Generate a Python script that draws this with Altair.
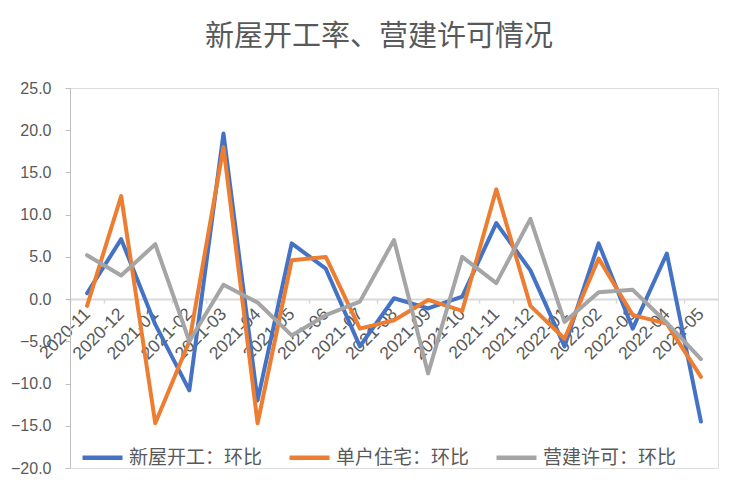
import altair as alt
import pandas as pd

months = ["2020-11", "2020-12", "2021-01", "2021-02", "2021-03", "2021-04", "2021-05",
          "2021-06", "2021-07", "2021-08", "2021-09", "2021-10", "2021-11", "2021-12",
          "2022-01", "2022-02", "2022-03", "2022-04", "2022-05"]
series_names = ["新屋开工：环比", "单户住宅：环比", "营建许可：环比"]
starts = [0.7, 7.1, -3.0, -10.8, 19.6, -12.0, 6.6, 3.6, -5.6, 0.1, -1.1, 0.3, 9.0, 3.4, -5.6, 6.6, -3.5, 5.4, -14.5]
single = [-0.8, 12.2, -14.7, -5.0, 18.0, -14.7, 4.6, 5.0, -3.5, -2.5, -0.1, -1.4, 13.0, -0.8, -4.7, 4.8, -1.9, -2.9, -9.2]
permits = [5.2, 2.8, 6.5, -5.0, 1.7, -0.4, -4.3, -1.9, -0.3, 7.0, -8.8, 5.0, 1.9, 9.5, -2.7, 0.8, 1.1, -2.8, -7.1]
colors = ["#4472C4", "#ED7D31", "#A5A5A5"]
y_ticks = [-20, -15, -10, -5, 0, 5, 10, 15, 20, 25]

rows = []
for name, vals in zip(series_names, [starts, single, permits]):
    for m, v in zip(months, vals):
        rows.append({"month": m, "value": v, "series": name})
df = pd.DataFrame(rows)

W, H = 648, 380
band = W / len(months)
zero_offset = -H * (0 - (-20)) / 45.0

chart = alt.Chart(df).mark_line(strokeWidth=4, strokeJoin="round", strokeCap="round").encode(
    x=alt.X("month:N", sort=months, bandPosition=0.5,
            scale=alt.Scale(type="band", domain=months, paddingInner=0, paddingOuter=0),
            axis=alt.Axis(title=None, orient="bottom", offset=zero_offset,
                          tickOffset=-band / 2, labelOffset=band / 2,
                          labelAngle=-45, labelAlign="right",
                          labelBaseline="middle", labelPadding=8, tickSize=4,
                          tickColor="#D9D9D9", tickWidth=1.5, domainColor="#D9D9D9",
                          domainWidth=2, labelColor="#595959", labelFontSize=17.5,
                          labelFont="Liberation Sans", grid=False)),
    y=alt.Y("value:Q",
            scale=alt.Scale(domain=[-20, 25], nice=False, zero=False),
            axis=alt.Axis(title=None, values=y_ticks, format=".1f", tickSize=5,
                          tickColor="#BFBFBF", domainColor="#BFBFBF", labelPadding=14,
                          labelColor="#595959", labelFontSize=16,
                          labelFont="Liberation Sans", grid=False)),
    color=alt.Color("series:N", sort=series_names,
                    scale=alt.Scale(domain=series_names, range=colors),
                    legend=alt.Legend(title=None, orient="none", legendX=10, legendY=347,
                                      direction="horizontal", columns=3, columnPadding=17,
                                      symbolType="stroke", symbolSize=1600,
                                      symbolStrokeWidth=4.5, labelOffset=4,
                                      labelFontSize=19, labelFont="Noto Sans CJK SC",
                                      labelColor="#595959", padding=0, labelLimit=300)),
    detail="series:N",
).properties(
    width=W,
    height=H,
    title=alt.TitleParams("新屋开工率、营建许可情况", font="Noto Sans CJK SC", fontSize=29,
                          fontWeight="normal", color="#595959", anchor="middle",
                          frame="group", dx=-15, offset=28),
    autosize=alt.AutoSizeParams(type="none"),
    padding={"left": 62, "top": 80, "right": 30, "bottom": 20},
).configure_view(stroke=None).configure(background="white")

chart.save("out.html", embed_options={"renderer": "svg", "actions": False})
